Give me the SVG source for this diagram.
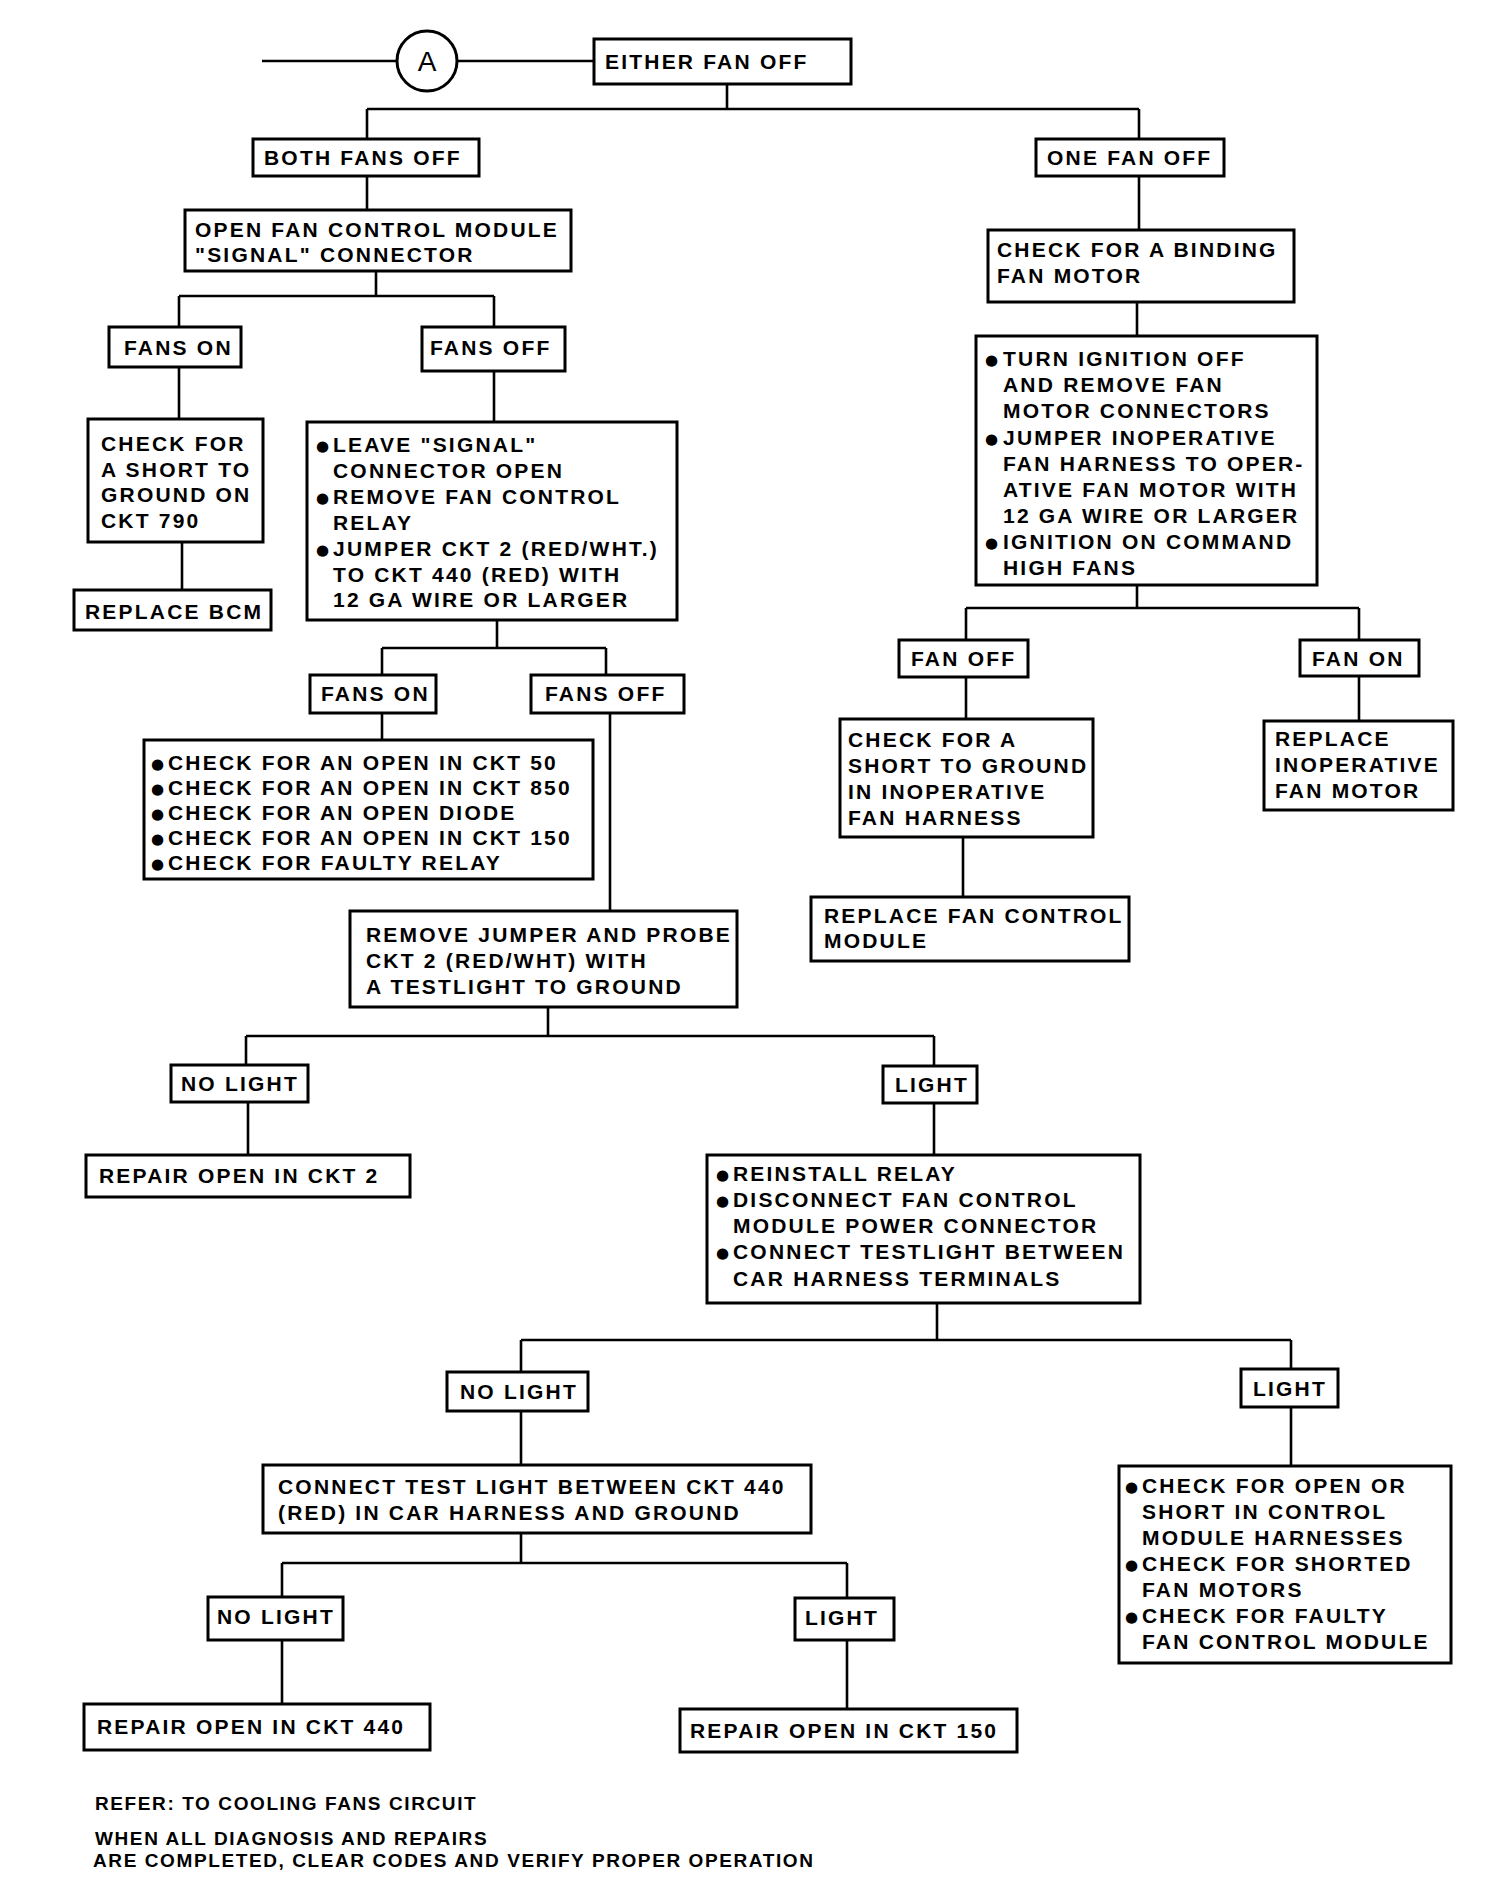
<svg xmlns="http://www.w3.org/2000/svg" width="1504" height="1900" viewBox="0 0 1504 1900">
<style>
.bg{fill:#fff}
.box{fill:#fff;stroke:#000;stroke-width:3}
.c line{stroke:#000;stroke-width:2.6;fill:none}
text{font-family:"Liberation Sans",Arial,sans-serif;font-weight:bold;font-size:21px;letter-spacing:2.2px;fill:#000}
.b{font-family:"DejaVu Sans",sans-serif;font-size:15px;letter-spacing:0}
.f{font-size:19px;letter-spacing:1.6px}
</style>
<rect class="bg" x="0" y="0" width="1504" height="1900"/>
<g class="c" id="connectors">
<line x1="262" y1="61" x2="397" y2="61"/>
<line x1="457" y1="61" x2="594" y2="61"/>
<line x1="727" y1="84" x2="727" y2="109"/>
<line x1="367" y1="109" x2="1139" y2="109"/>
<line x1="367" y1="109" x2="367" y2="139"/>
<line x1="1139" y1="109" x2="1139" y2="139"/>
<line x1="367" y1="176" x2="367" y2="210"/>
<line x1="376" y1="271" x2="376" y2="296"/>
<line x1="179" y1="296" x2="494" y2="296"/>
<line x1="179" y1="296" x2="179" y2="327"/>
<line x1="494" y1="296" x2="494" y2="327"/>
<line x1="179" y1="367" x2="179" y2="419"/>
<line x1="182" y1="542" x2="182" y2="590"/>
<line x1="494" y1="371" x2="494" y2="422"/>
<line x1="497" y1="620" x2="497" y2="648"/>
<line x1="382" y1="648" x2="606" y2="648"/>
<line x1="382" y1="648" x2="382" y2="675"/>
<line x1="606" y1="648" x2="606" y2="675"/>
<line x1="382" y1="713" x2="382" y2="740"/>
<line x1="610" y1="713" x2="610" y2="911"/>
<line x1="548" y1="1007" x2="548" y2="1036"/>
<line x1="246" y1="1036" x2="934" y2="1036"/>
<line x1="246" y1="1036" x2="246" y2="1065"/>
<line x1="934" y1="1036" x2="934" y2="1066"/>
<line x1="248" y1="1102" x2="248" y2="1155"/>
<line x1="934" y1="1103" x2="934" y2="1155"/>
<line x1="937" y1="1303" x2="937" y2="1340"/>
<line x1="521" y1="1340" x2="1291" y2="1340"/>
<line x1="521" y1="1340" x2="521" y2="1372"/>
<line x1="1291" y1="1340" x2="1291" y2="1369"/>
<line x1="521" y1="1411" x2="521" y2="1465"/>
<line x1="521" y1="1533" x2="521" y2="1563"/>
<line x1="282" y1="1563" x2="847" y2="1563"/>
<line x1="282" y1="1563" x2="282" y2="1597"/>
<line x1="847" y1="1563" x2="847" y2="1598"/>
<line x1="282" y1="1640" x2="282" y2="1704"/>
<line x1="847" y1="1640" x2="847" y2="1709"/>
<line x1="1291" y1="1407" x2="1291" y2="1466"/>
<line x1="1139" y1="176" x2="1139" y2="230"/>
<line x1="1137" y1="302" x2="1137" y2="336"/>
<line x1="1137" y1="585" x2="1137" y2="608"/>
<line x1="966" y1="608" x2="1359" y2="608"/>
<line x1="966" y1="608" x2="966" y2="640"/>
<line x1="1359" y1="608" x2="1359" y2="640"/>
<line x1="966" y1="677" x2="966" y2="719"/>
<line x1="1359" y1="676" x2="1359" y2="721"/>
<line x1="963" y1="837" x2="963" y2="897"/>
</g>
<g id="nA"><circle cx="427" cy="61" r="30" fill="#fff" stroke="#000" stroke-width="3"/><text x="427" y="71" text-anchor="middle" style="font-size:28px;letter-spacing:0;font-weight:normal">A</text></g>
<g id="n1"><rect class="box" x="594" y="39" width="257" height="45"/><text x="605" y="69">EITHER FAN OFF</text></g>
<g id="n2"><rect class="box" x="253" y="139" width="226" height="37"/><text x="264" y="165">BOTH FANS OFF</text></g>
<g id="n3"><rect class="box" x="1036" y="139" width="188" height="37"/><text x="1047" y="165">ONE FAN OFF</text></g>
<g id="n4"><rect class="box" x="185" y="210" width="386" height="61"/><text x="195" y="237">OPEN FAN CONTROL MODULE</text><text x="195" y="262">"SIGNAL" CONNECTOR</text></g>
<g id="n5"><rect class="box" x="109" y="327" width="132" height="40"/><text x="124" y="355">FANS ON</text></g>
<g id="n6"><rect class="box" x="422" y="327" width="143" height="44"/><text x="430" y="355">FANS OFF</text></g>
<g id="n7"><rect class="box" x="88" y="419" width="175" height="123"/><text x="101" y="451">CHECK FOR</text><text x="101" y="477">A SHORT TO</text><text x="101" y="502">GROUND ON</text><text x="101" y="528">CKT 790</text></g>
<g id="n8"><rect class="box" x="74" y="590" width="197" height="40"/><text x="85" y="619">REPLACE BCM</text></g>
<g id="n9"><rect class="box" x="307" y="422" width="370" height="198"/>
<text class="b" x="316" y="451">●</text><text x="333" y="452">LEAVE "SIGNAL"</text>
<text x="333" y="478">CONNECTOR OPEN</text>
<text class="b" x="316" y="503">●</text><text x="333" y="504">REMOVE FAN CONTROL</text>
<text x="333" y="530">RELAY</text>
<text class="b" x="316" y="555">●</text><text x="333" y="556">JUMPER CKT 2 (RED/WHT.)</text>
<text x="333" y="582">TO CKT 440 (RED) WITH</text>
<text x="333" y="607">12 GA WIRE OR LARGER</text></g>
<g id="n10"><rect class="box" x="310" y="675" width="126" height="38"/><text x="321" y="701">FANS ON</text></g>
<g id="n11"><rect class="box" x="531" y="675" width="153" height="38"/><text x="545" y="701">FANS OFF</text></g>
<g id="n12"><rect class="box" x="144" y="740" width="449" height="139"/>
<text class="b" x="151" y="769">●</text><text x="168" y="770">CHECK FOR AN OPEN IN CKT 50</text>
<text class="b" x="151" y="794">●</text><text x="168" y="795">CHECK FOR AN OPEN IN CKT 850</text>
<text class="b" x="151" y="819">●</text><text x="168" y="820">CHECK FOR AN OPEN DIODE</text>
<text class="b" x="151" y="844">●</text><text x="168" y="845">CHECK FOR AN OPEN IN CKT 150</text>
<text class="b" x="151" y="869">●</text><text x="168" y="870">CHECK FOR FAULTY RELAY</text></g>
<g id="n13"><rect class="box" x="350" y="911" width="387" height="96"/><text x="366" y="942">REMOVE JUMPER AND PROBE</text><text x="366" y="968">CKT 2 (RED/WHT) WITH</text><text x="366" y="994">A TESTLIGHT TO GROUND</text></g>
<g id="n14"><rect class="box" x="171" y="1065" width="137" height="37"/><text x="181" y="1091">NO LIGHT</text></g>
<g id="n15"><rect class="box" x="86" y="1155" width="324" height="42"/><text x="99" y="1183">REPAIR OPEN IN CKT 2</text></g>
<g id="n16"><rect class="box" x="883" y="1066" width="94" height="37"/><text x="895" y="1092">LIGHT</text></g>
<g id="n17"><rect class="box" x="707" y="1155" width="433" height="148"/>
<text class="b" x="716" y="1180">●</text><text x="733" y="1181">REINSTALL RELAY</text>
<text class="b" x="716" y="1206">●</text><text x="733" y="1207">DISCONNECT FAN CONTROL</text>
<text x="733" y="1233">MODULE POWER CONNECTOR</text>
<text class="b" x="716" y="1258">●</text><text x="733" y="1259">CONNECT TESTLIGHT BETWEEN</text>
<text x="733" y="1286">CAR HARNESS TERMINALS</text></g>
<g id="n18"><rect class="box" x="447" y="1372" width="141" height="39"/><text x="460" y="1399">NO LIGHT</text></g>
<g id="n19"><rect class="box" x="1241" y="1369" width="97" height="38"/><text x="1253" y="1396">LIGHT</text></g>
<g id="n20"><rect class="box" x="263" y="1465" width="548" height="68"/><text x="278" y="1494">CONNECT TEST LIGHT BETWEEN CKT 440</text><text x="278" y="1520">(RED) IN CAR HARNESS AND GROUND</text></g>
<g id="n21"><rect class="box" x="208" y="1597" width="135" height="43"/><text x="217" y="1624">NO LIGHT</text></g>
<g id="n22"><rect class="box" x="795" y="1598" width="99" height="42"/><text x="805" y="1625">LIGHT</text></g>
<g id="n23"><rect class="box" x="84" y="1704" width="346" height="46"/><text x="97" y="1734">REPAIR OPEN IN CKT 440</text></g>
<g id="n24"><rect class="box" x="680" y="1709" width="337" height="43"/><text x="690" y="1738">REPAIR OPEN IN CKT 150</text></g>
<g id="n25"><rect class="box" x="1119" y="1466" width="332" height="197"/>
<text class="b" x="1125" y="1492">●</text><text x="1142" y="1493">CHECK FOR OPEN OR</text>
<text x="1142" y="1519">SHORT IN CONTROL</text>
<text x="1142" y="1545">MODULE HARNESSES</text>
<text class="b" x="1125" y="1570">●</text><text x="1142" y="1571">CHECK FOR SHORTED</text>
<text x="1142" y="1597">FAN MOTORS</text>
<text class="b" x="1125" y="1622">●</text><text x="1142" y="1623">CHECK FOR FAULTY</text>
<text x="1142" y="1649">FAN CONTROL MODULE</text></g>
<g id="n26"><rect class="box" x="988" y="230" width="306" height="72"/><text x="997" y="257">CHECK FOR A BINDING</text><text x="997" y="283">FAN MOTOR</text></g>
<g id="n27"><rect class="box" x="976" y="336" width="341" height="249"/>
<text class="b" x="985" y="365">●</text><text x="1003" y="366">TURN IGNITION OFF</text>
<text x="1003" y="392">AND REMOVE FAN</text>
<text x="1003" y="418">MOTOR CONNECTORS</text>
<text class="b" x="985" y="444">●</text><text x="1003" y="445">JUMPER INOPERATIVE</text>
<text x="1003" y="471">FAN HARNESS TO OPER-</text>
<text x="1003" y="497">ATIVE FAN MOTOR WITH</text>
<text x="1003" y="523">12 GA WIRE OR LARGER</text>
<text class="b" x="985" y="548">●</text><text x="1003" y="549">IGNITION ON COMMAND</text>
<text x="1003" y="575">HIGH FANS</text></g>
<g id="n28"><rect class="box" x="899" y="640" width="129" height="37"/><text x="911" y="666">FAN OFF</text></g>
<g id="n29"><rect class="box" x="1300" y="640" width="119" height="36"/><text x="1312" y="666">FAN ON</text></g>
<g id="n30"><rect class="box" x="840" y="719" width="253" height="118"/><text x="848" y="747">CHECK FOR A</text><text x="848" y="773">SHORT TO GROUND</text><text x="848" y="799">IN INOPERATIVE</text><text x="848" y="825">FAN HARNESS</text></g>
<g id="n31"><rect class="box" x="811" y="897" width="318" height="64"/><text x="824" y="923">REPLACE FAN CONTROL</text><text x="824" y="948">MODULE</text></g>
<g id="n32"><rect class="box" x="1264" y="721" width="189" height="89"/><text x="1275" y="746">REPLACE</text><text x="1275" y="772">INOPERATIVE</text><text x="1275" y="798">FAN MOTOR</text></g>
<g id="footer">
<text class="f" x="95" y="1810">REFER: TO COOLING FANS CIRCUIT</text>
<text class="f" x="95" y="1845">WHEN ALL DIAGNOSIS AND REPAIRS</text>
<text class="f" x="93" y="1867">ARE COMPLETED, CLEAR CODES AND VERIFY PROPER OPERATION</text>
</g>
</svg>
